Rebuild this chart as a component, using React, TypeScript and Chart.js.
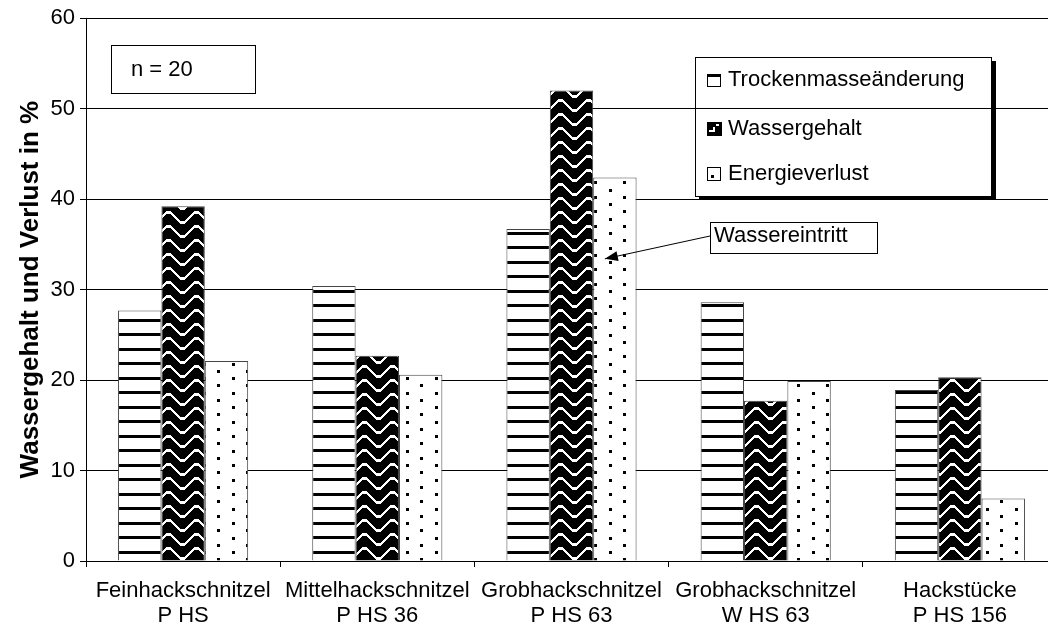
import React, { useEffect, useRef } from 'react';
import { Chart, registerables } from 'chart.js';

Chart.register(...registerables);

// ---------- data ----------
const categories: string[][] = [
  ['Feinhackschnitzel', 'P HS'],
  ['Mittelhackschnitzel', 'P HS 36'],
  ['Grobhackschnitzel', 'P HS 63'],
  ['Grobhackschnitzel', 'W HS 63'],
  ['Hackstücke', 'P HS 156'],
];
const seriesNames = ['Trockenmasseänderung', 'Wassergehalt', 'Energieverlust'];
const trockenmasse = [27.7, 30.4, 36.7, 28.6, 18.9];
const wassergehalt = [39.2, 22.7, 52.0, 17.7, 20.3];
const energieverlust = [22.1, 20.6, 42.4, 19.9, 6.9];
const yMin = 0;
const yMax = 60;
const yStep = 10;
const yTitle = 'Wassergehalt und Verlust in %';
const sampleNote = 'n = 20';
const annotationText = 'Wassereintritt';
const annotationCategory = 2; // Grobhackschnitzel P HS 63
const annotationSeries = 2; // Energieverlust
const annotationValue = 33.4;

const FONT = '"Liberation Sans", Arial, Helvetica, sans-serif';

function makePattern(w: number, h: number, draw: (g: CanvasRenderingContext2D) => void) {
  const c = document.createElement('canvas');
  c.width = w;
  c.height = h;
  const g = c.getContext('2d')!;
  draw(g);
  return g.createPattern(c, 'repeat')!;
}

function stripePattern() {
  return makePattern(8, 29, (g) => {
    g.fillStyle = '#fff';
    g.fillRect(0, 0, 8, 29);
    g.fillStyle = '#000';
    g.fillRect(0, 0, 8, 3);
    g.fillRect(0, 14, 8, 3);
  });
}

function zigzagPattern() {
  const W = 28, H = 14;
  return makePattern(W, H, (g) => {
    g.fillStyle = '#000';
    g.fillRect(0, 0, W, H);
    g.fillStyle = '#fff';
    for (let x = 0; x < W; x++) {
      const d = x < W / 2 ? x : W - x;
      let y = Math.round(1 + Math.max(0, Math.min(10, (d - 2) * 1.0)));
      if (d <= 2) y = 1;
      g.fillRect(x, y, 1, 3);
      if (y + 3 > H) g.fillRect(x, y - H, 1, 3);
    }
  });
}

function dotPattern() {
  return makePattern(29, 29, (g) => {
    g.fillStyle = '#fff';
    g.fillRect(0, 0, 29, 29);
    g.fillStyle = '#000';
    g.fillRect(0, 0, 3, 3);
    g.fillRect(0, 15, 3, 3);
    g.fillRect(14, 7, 3, 3);
    g.fillRect(14, 22, 3, 3);
  });
}

const overlayPlugin = {
  id: 'overlay',
  afterDraw(chart: any) {
    const ctx: CanvasRenderingContext2D = chart.ctx;
    ctx.save();
    ctx.font = `22px ${FONT}`;
    ctx.fillStyle = '#000';
    ctx.strokeStyle = '#000';
    ctx.lineWidth = 1;
    ctx.textAlign = 'left';
    ctx.textBaseline = 'middle';

    // n = 20 box
    ctx.strokeRect(111.5, 45.5, 144, 48);
    ctx.fillText(sampleNote, 131, 70);

    // legend box with shadow
    ctx.fillRect(992, 61, 4, 139);
    ctx.fillRect(699, 196, 297, 4);
    ctx.strokeRect(695.5, 57.5, 296, 139);

    const names = chart.data.datasets.map((d: any) => d.label);
    const ys = [80, 129, 174];
    // icon 1: stripes
    ctx.fillStyle = '#fff';
    ctx.fillRect(707, 74, 14, 13);
    ctx.strokeRect(707.5, 74.5, 13, 12);
    ctx.fillStyle = '#000';
    ctx.fillRect(707, 74, 14, 3);
    // icon 2: zigzag
    ctx.fillRect(707, 122, 15, 14);
    ctx.fillStyle = '#fff';
    ctx.fillRect(709, 130, 6, 2);
    ctx.fillRect(713, 127, 2, 4);
    ctx.fillRect(716, 124, 3, 2);
    ctx.fillStyle = '#000';
    // icon 3: dots
    ctx.strokeRect(707.5, 167.5, 13, 13);
    ctx.fillRect(711, 175, 3, 3);
    names.forEach((n: string, i: number) => ctx.fillText(n, 728, ys[i]));

    // annotation box + arrow
    ctx.strokeRect(710.5, 222.5, 167, 31);
    ctx.fillText(annotationText, 714, 236);
    const bar = chart.getDatasetMeta(annotationSeries).data[annotationCategory];
    const tipX = bar.x - 10;
    const tipY = chart.scales.y.getPixelForValue(annotationValue);
    const sx = 710, sy = 236;
    ctx.beginPath();
    ctx.moveTo(sx, sy);
    ctx.lineTo(tipX, tipY);
    ctx.stroke();
    const ang = Math.atan2(tipY - sy, tipX - sx);
    const L = 13, W = 5;
    ctx.beginPath();
    ctx.moveTo(tipX, tipY);
    ctx.lineTo(tipX - L * Math.cos(ang) + W * Math.sin(ang), tipY - L * Math.sin(ang) - W * Math.cos(ang));
    ctx.lineTo(tipX - L * Math.cos(ang) - W * Math.sin(ang), tipY - L * Math.sin(ang) + W * Math.cos(ang));
    ctx.closePath();
    ctx.fill();
    ctx.restore();
  },
};

export default function App() {
  const ref = useRef<HTMLCanvasElement | null>(null);

  useEffect(() => {
    if (!ref.current) return;
    Chart.defaults.font.family = FONT;
    Chart.defaults.color = '#000';
    const chart = new Chart(ref.current, {
      type: 'bar',
      data: {
        labels: categories,
        datasets: [
          { label: seriesNames[0], data: trockenmasse, backgroundColor: stripePattern() as any, borderColor: '#444', borderWidth: 1 },
          { label: seriesNames[1], data: wassergehalt, backgroundColor: zigzagPattern() as any, borderColor: '#444', borderWidth: 1 },
          { label: seriesNames[2], data: energieverlust, backgroundColor: dotPattern() as any, borderColor: '#444', borderWidth: 1 },
        ],
      },
      options: {
        responsive: false,
        maintainAspectRatio: false,
        devicePixelRatio: 1,
        animation: false,
        datasets: { bar: { categoryPercentage: 0.67, barPercentage: 1 } },
        layout: { padding: { top: 16, right: 13, left: 0, bottom: 0 } },
        plugins: { legend: { display: false }, tooltip: { enabled: false } },
        scales: {
          x: {
            grid: { display: true, drawOnChartArea: false, drawTicks: true, tickLength: 6, color: '#000', offset: true },
            border: { display: true, color: '#000', width: 1 },
            ticks: {
              autoSkip: false,
              maxRotation: 0,
              minRotation: 0,
              padding: 11,
              color: '#000',
              font: { size: 22, family: FONT, lineHeight: 1.14 },
            },
            afterFit(scale: any) {
              scale.height = 69;
            },
          },
          y: {
            min: yMin,
            max: yMax,
            grid: { color: '#000', lineWidth: 1, drawTicks: true, tickLength: 6 },
            border: { display: true, color: '#000', width: 1 },
            ticks: { stepSize: yStep, padding: 5, color: '#000', font: { size: 22, family: FONT } },
            title: {
              display: true,
              text: yTitle,
              color: '#000',
              font: { size: 26, weight: 'bold', family: FONT },
              padding: { top: 15, bottom: 0 },
            },
            afterFit(scale: any) {
              scale.width = 86;
            },
          },
        },
      },
      plugins: [overlayPlugin],
    } as any);
    return () => chart.destroy();
  }, []);

  return (
    <div style={{ position: 'absolute', left: 0, top: 0, width: 1048, height: 630, overflow: 'hidden', background: '#fff' }}>
      <canvas ref={ref} width={1070} height={630} style={{ display: 'block', width: 1070, height: 630 }} />
    </div>
  );
}
